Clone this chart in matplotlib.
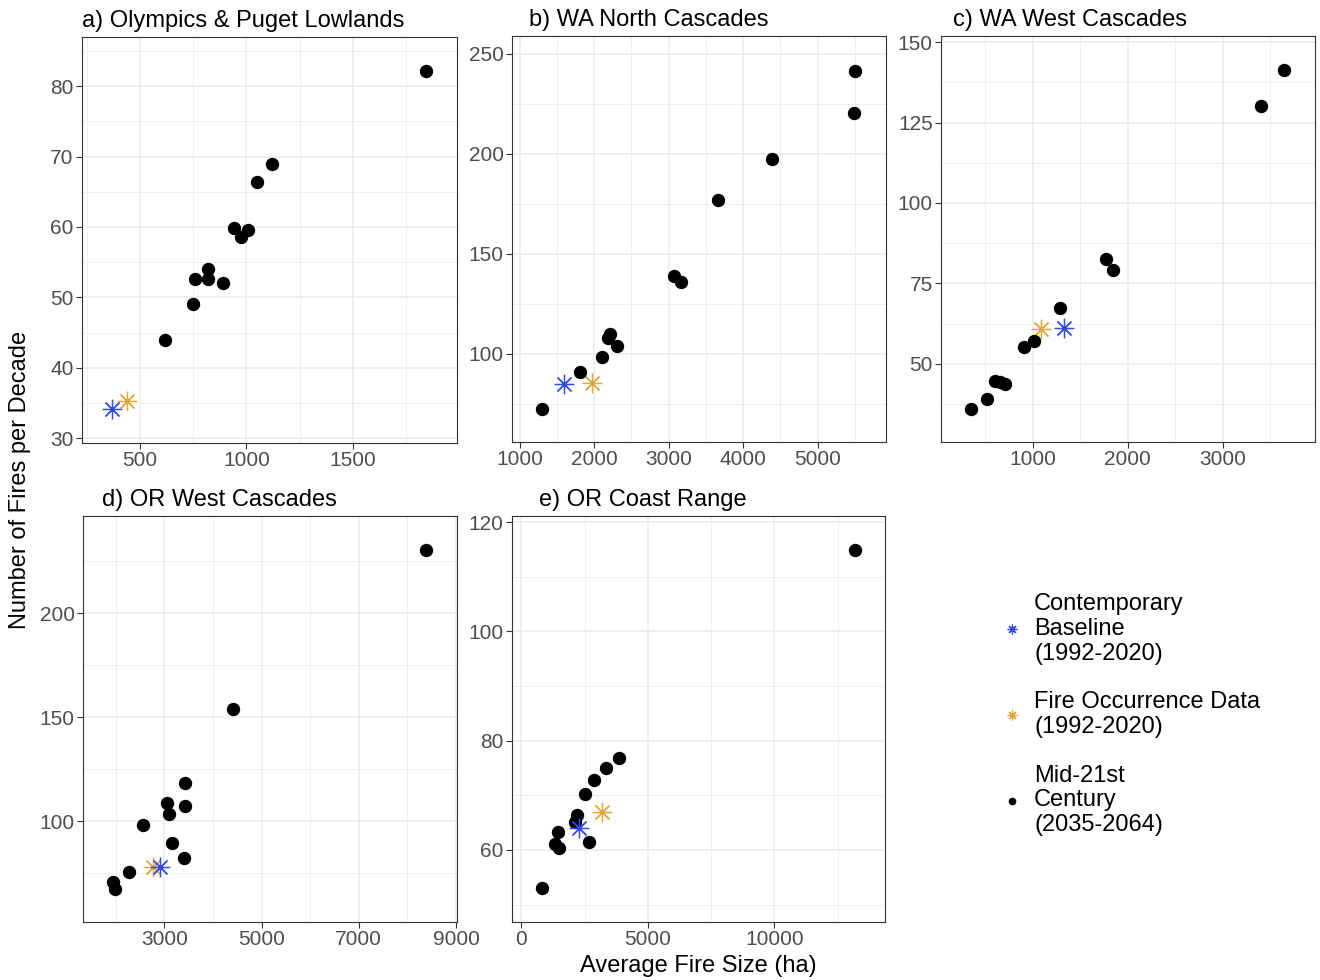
import matplotlib
matplotlib.use("Agg")
import matplotlib.pyplot as plt
from matplotlib.lines import Line2D
from matplotlib.ticker import FixedLocator

plt.rcParams['font.family'] = ['Liberation Sans', 'DejaVu Sans']

# ---------------- data ----------------
titles = ["a) Olympics & Puget Lowlands", "b) WA North Cascades", "c) WA West Cascades",
          "d) OR West Cascades", "e) OR Coast Range"]

a_fut_x = [1846, 1118, 1049, 942, 1008, 975, 818, 818, 756, 888, 750, 616]
a_fut_y = [82.1, 68.96, 66.4, 59.86, 59.57, 58.6, 53.98, 52.56, 52.56, 52.09, 49.05, 43.9]
a_base = (368, 34.1)
a_fod = (439, 35.2)

b_fut_x = [5506, 5483, 4383, 3662, 3067, 3166, 2217, 2190, 2302, 2101, 1814, 1304]
b_fut_y = [241.7, 220.3, 197.5, 176.7, 139.0, 136.0, 110.0, 107.8, 103.7, 98.5, 90.8, 72.5]
b_base = (1600, 84.8)
b_fod = (1975, 85.3)

c_fut_x = [3646, 3404, 1765, 1839, 1288, 1014, 905, 596, 649, 702, 516, 351]
c_fut_y = [141.2, 130.1, 82.6, 79.2, 67.3, 57.0, 55.1, 44.7, 44.2, 43.6, 39.0, 36.1]
c_base = (1323, 61.1)
c_fod = (1084, 60.9)

d_fut_x = [8384, 4411, 3425, 3048, 3432, 3096, 2562, 3151, 3397, 2267, 1952, 1986]
d_fut_y = [230.4, 153.8, 118.3, 108.7, 107.4, 103.6, 98.2, 89.6, 82.2, 75.5, 70.7, 67.7]
d_base = (2918, 78.1)
d_fod = (2767, 78.1)

e_fut_x = [13184, 3842, 3342, 2868, 2513, 2197, 2118, 1434, 1329, 1474, 2671, 829]
e_fut_y = [114.8, 76.9, 74.9, 72.7, 70.2, 66.3, 65.1, 63.2, 61.1, 60.3, 61.5, 53.0]
e_base = (2263, 64.0)
e_fod = (3171, 67.0)

x_ticks = [[500, 1000, 1500], [1000, 2000, 3000, 4000, 5000], [1000, 2000, 3000],
           [3000, 5000, 7000, 9000], [0, 5000, 10000]]
y_ticks = [[30, 40, 50, 60, 70, 80], [100, 150, 200, 250], [50, 75, 100, 125, 150],
           [100, 150, 200], [60, 80, 100, 120]]
x_minor = [[250, 750, 1250, 1750], [1500, 2500, 3500, 4500, 5500], [500, 1500, 2500, 3500],
           [2000, 4000, 6000, 8000], [2500, 7500, 12500]]
y_minor = [[35, 45, 55, 65, 75, 85], [75, 125, 175, 225], [37.5, 62.5, 87.5, 112.5, 137.5],
           [75, 125, 175, 225], [50, 70, 90, 110]]
x_lims = [(226, 1991), (897, 5917), (32, 3972), (1329, 9020), (-368, 14368)]
y_lims = [(29.3, 87), (55.8, 259), (25.7, 151.9), (51.7, 246.7), (46.8, 121.1)]

legend_labels = ["Contemporary\nBaseline\n(1992-2020)",
                 "Fire Occurrence Data\n(1992-2020)",
                 "Mid-21st\nCentury\n(2035-2064)"]

fut = [(a_fut_x, a_fut_y), (b_fut_x, b_fut_y), (c_fut_x, c_fut_y), (d_fut_x, d_fut_y), (e_fut_x, e_fut_y)]
base = [a_base, b_base, c_base, d_base, e_base]
fod = [a_fod, b_fod, c_fod, d_fod, e_fod]

BLUE = '#2F4CF2'
ORANGE = '#E3A63A'

# ---------------- figure ----------------
W, H = 1320, 980
fig = plt.figure(figsize=(W / 100, H / 100), dpi=100)

# axes boxes in pixels: left, top, right, bottom
boxes = [(82, 37, 457, 443), (512, 36, 886, 442), (941, 36, 1315, 442),
         (83, 516, 457, 922), (512, 516, 885, 922)]
title_x = [82, 529, 953, 102, 539]

for i, (l, t, r, b) in enumerate(boxes):
    ax = fig.add_axes([l / W, 1 - b / H, (r - l) / W, (b - t) / H])
    ax.set_xlim(*x_lims[i])
    ax.set_ylim(*y_lims[i])
    ax.xaxis.set_major_locator(FixedLocator(x_ticks[i]))
    ax.yaxis.set_major_locator(FixedLocator(y_ticks[i]))
    ax.xaxis.set_minor_locator(FixedLocator(x_minor[i]))
    ax.yaxis.set_minor_locator(FixedLocator(y_minor[i]))
    ax.grid(which='major', color='#EBEBEB', linewidth=1.1, zorder=0)
    ax.grid(which='minor', color='#EBEBEB', linewidth=0.55, zorder=0)
    ax.set_axisbelow(True)
    ax.tick_params(which='major', length=4, width=0.8, color='#333333',
                   labelsize=15, labelcolor='#4D4D4D', pad=2)
    ax.tick_params(which='minor', length=0)
    for s in ax.spines.values():
        s.set_color('#333333')
        s.set_linewidth(0.8)

    ax.plot([fod[i][0]], [fod[i][1]], linestyle='none', marker=(8, 2, 0), ms=14,
            mew=0.9, color=ORANGE, zorder=3)
    fx, fy = fut[i]
    ax.plot(fx, fy, linestyle='none', marker='o', ms=8.6, color='black', zorder=4)
    ax.plot([base[i][0]], [base[i][1]], linestyle='none', marker=(8, 2, 0), ms=14,
            mew=0.9, color=BLUE, zorder=5)

    fig.text(title_x[i] / W, 1 - (t - 10) / H, titles[i], fontsize=17,
             ha='left', va='baseline', color='black')

fig.text(20 / W, 1 - 480 / H, "Number of Fires per Decade", rotation=90,
         fontsize=17, ha='center', va='center')
fig.text(698 / W, 1 - 966 / H, "Average Fire Size (ha)", fontsize=17,
         ha='center', va='center')

handles = [
    Line2D([], [], linestyle='none', marker=(8, 2, 0), ms=7, mew=0.9, color=BLUE),
    Line2D([], [], linestyle='none', marker=(8, 2, 0), ms=7, mew=0.9, color=ORANGE),
    Line2D([], [], linestyle='none', marker='o', ms=4.5, color='black'),
]
leg = fig.legend(handles, legend_labels, loc='upper left',
                 bbox_to_anchor=(1000 / W, 1 - 593 / H), frameon=False,
                 fontsize=17, handlelength=1.0, handletextpad=0.45,
                 labelspacing=1.12, borderpad=0, borderaxespad=0)
for t in leg.get_texts():
    t.set_linespacing(1.17)

fig.savefig("out.png", dpi=100)
